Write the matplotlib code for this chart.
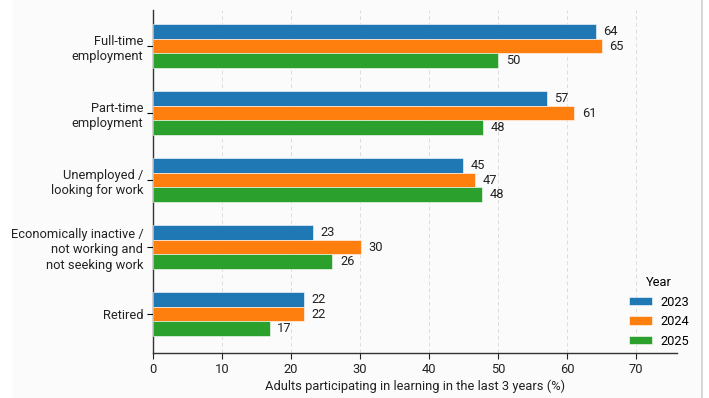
import matplotlib
matplotlib.use("Agg")
import matplotlib.pyplot as plt
import numpy as np
from matplotlib.patches import Rectangle

plt.rcParams['font.family'] = ['Roboto', 'DejaVu Sans']

categories = ["Full-time\nemployment", "Part-time\nemployment", "Unemployed /\nlooking for work",
              "Economically inactive /\nnot working and\nnot seeking work", "Retired"]
years = ["2023", "2024", "2025"]
v2023 = [64.1, 57.0, 44.9, 23.2, 21.9]
v2024 = [65.0, 61.0, 46.6, 30.1, 21.9]
v2025 = [50.0, 47.8, 47.6, 26.0, 16.9]
colors = ["#1f77b4", "#ff7f0e", "#2ca02c"]

fig = plt.figure(figsize=(7.09, 3.98), dpi=100)
fig.patch.set_facecolor("white")
fig.patches.append(Rectangle((13/709, 0), (702-13)/709, 1, transform=fig.transFigure,
                             facecolor="#fbfbfb", edgecolor="none", zorder=-10))
fig.lines.append(plt.Line2D([702/709, 702/709], [0, 1], transform=fig.transFigure,
                            color="#cfcfcf", lw=1.2))

ax = fig.add_axes([153/709, 1 - 353/398, (677-153)/709, (353-10)/398])
ax.set_facecolor("none")

fs = 9.3
y = np.arange(len(categories))
h = 0.218
series = [v2023, v2024, v2025]
for i, (vals, c, yr) in enumerate(zip(series, colors, years)):
    pos = y + (i - 1) * h
    bars = ax.barh(pos, vals, height=h, color=c, edgecolor="white", linewidth=0.4, label=yr, zorder=3)
    for b, v in zip(bars, vals):
        ax.text(v + 1.1, b.get_y() + b.get_height() / 2, f"{round(v):d}", va="center", ha="left",
                fontsize=fs, color="#222222", zorder=4)

ax.set_xlim(0, 75.9)
ax.set_ylim(4.58, -0.54)
ax.set_yticks(y)
ax.set_yticklabels(categories, fontsize=fs, color="#222222", linespacing=1.25)
ax.set_xticks(np.arange(0, 71, 10))
ax.tick_params(axis='x', labelsize=fs, colors="#222222", length=4, pad=3)
ax.tick_params(axis='y', length=4, pad=3)
ax.set_xlabel("Adults participating in learning in the last 3 years (%)", fontsize=fs, color="#222222", labelpad=3)
ax.xaxis.grid(True, linestyle=(0, (4, 3)), color="#dddddd", linewidth=0.7, zorder=0)
ax.set_axisbelow(True)
for s in ["top", "right"]:
    ax.spines[s].set_visible(False)
for s in ["left", "bottom"]:
    ax.spines[s].set_color("#333333")
    ax.spines[s].set_linewidth(1.0)

leg = ax.legend(title="Year", loc="lower right", bbox_to_anchor=(1.045, -0.018), frameon=False,
                fontsize=fs, title_fontsize=fs, handlelength=1.8, handleheight=0.6,
                labelspacing=0.5, handletextpad=0.6)

fig.savefig("out.png", dpi=100, facecolor=fig.get_facecolor())
